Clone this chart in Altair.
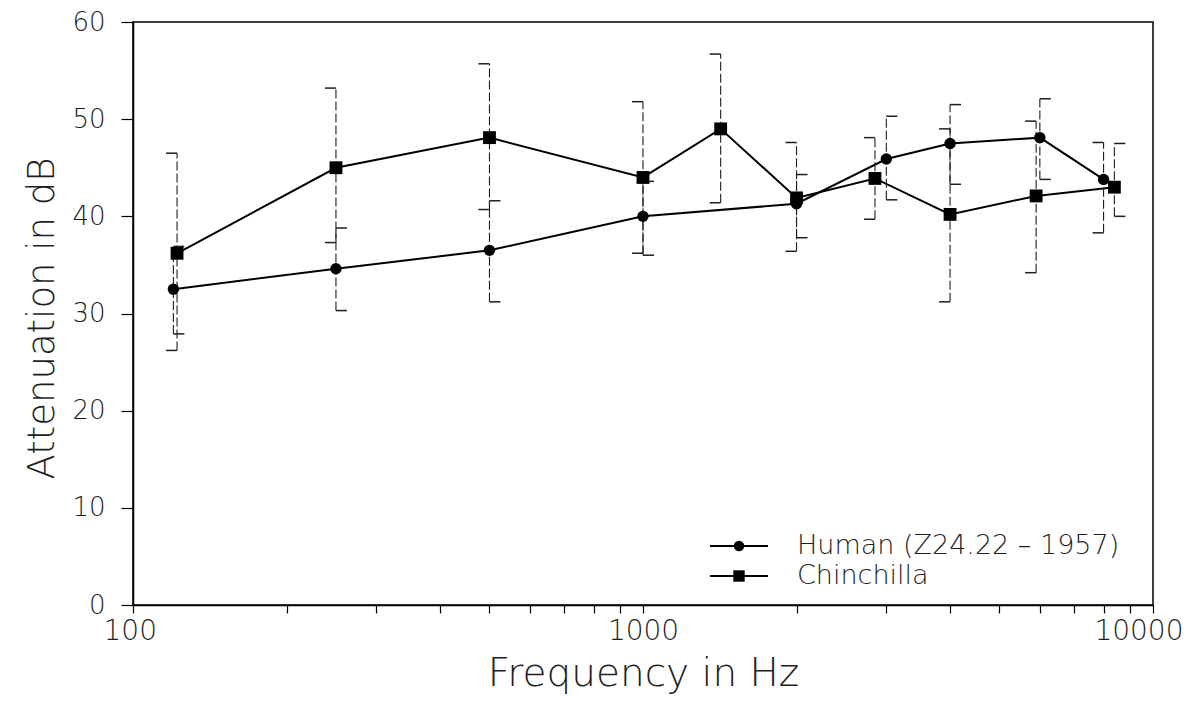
import altair as alt
import pandas as pd

# ---- data ----
human_freq = [120, 250, 500, 1000, 2000, 3000, 4000, 6000, 8000]
human_db = [32.5, 34.6, 36.5, 40.0, 41.3, 45.9, 47.5, 48.1, 43.8]
human_hi = [36.9, 38.8, 41.6, 43.6, 44.3, 50.3, 51.5, 52.1, 47.6]
human_lo = [27.9, 30.3, 31.2, 36.0, 37.8, 41.7, 43.3, 43.8, 38.3]
human_cap = ["R", "R", "R", "R", "R", "R", "R", "R", "L"]

chin_freq = [122, 250, 500, 1000, 1420, 2000, 2850, 4000, 5900, 8400]
chin_db = [36.2, 45.0, 48.1, 44.0, 49.0, 41.9, 43.9, 40.2, 42.1, 43.0]
chin_hi = [46.5, 53.2, 55.7, 51.8, 56.7, 47.6, 48.1, 49.0, 49.8, 47.5]
chin_lo = [26.2, 37.3, 40.7, 36.2, 41.4, 36.4, 39.7, 31.2, 34.2, 40.0]
chin_cap = ["L", "L", "L", "L", "L", "L", "L", "L", "L", "R"]

HUMAN = "Human (Z24.22 \u2013 1957)"
CHIN = "Chinchilla"

x_ticks = [100, 200, 300, 400, 500, 600, 700, 800, 900,
           1000, 2000, 3000, 4000, 5000, 6000, 7000, 8000, 9000, 10000]
y_ticks = [0, 10, 20, 30, 40, 50, 60]

rows = []
for f, d, h, l, c in zip(human_freq, human_db, human_hi, human_lo, human_cap):
    rows.append(dict(series=HUMAN, freq=f, db=d, hi=h, lo=l, cap=c))
for f, d, h, l, c in zip(chin_freq, chin_db, chin_hi, chin_lo, chin_cap):
    rows.append(dict(series=CHIN, freq=f, db=d, hi=h, lo=l, cap=c))
df = pd.DataFrame(rows)

FONT = "DejaVu Sans"
INK = "#1e1e1e"

x_enc = alt.X(
    "freq:Q",
    scale=alt.Scale(type="log", domain=[100, 10000]),
    axis=alt.Axis(
        values=x_ticks,
        labelExpr="(datum.value==100||datum.value==1000||datum.value==10000) ? format(datum.value,'d') : ''",
        labelOverlap=False,
        labelFlush=True,
        labelFlushOffset=30,
        tickSize=8,
        labelPadding=4,
        labelFontSize=28,
        title="Frequency in Hz",
        titleFontSize=39,
        titleBaseline="alphabetic",
        titleY=80,
        grid=False,
    ),
)
y_enc = alt.Y(
    "db:Q",
    scale=alt.Scale(domain=[0, 60]),
    axis=alt.Axis(
        values=y_ticks,
        tickSize=12,
        labelPadding=16,
        labelFontSize=26,
        title="Attenuation in dB",
        titleFontSize=37,
        titleAngle=-90,
        titleBaseline="alphabetic",
        titleX=-80,
        titleY=296,
        grid=False,
    ),
)

base = alt.Chart(df)

lines = base.mark_line(color="black", strokeWidth=2).encode(
    x=x_enc, y=y_enc, detail="series:N"
)

bars = base.mark_rule(color=INK, strokeWidth=1.1, strokeDash=[9, 3]).encode(
    x="freq:Q", y="lo:Q", y2="hi:Q"
)

def caps(side, field):
    if side == "L":
        m = base.mark_rule(color=INK, strokeWidth=1.5, xOffset=-11, x2Offset=0)
    else:
        m = base.mark_rule(color=INK, strokeWidth=1.5, xOffset=0, x2Offset=11)
    return m.transform_filter(alt.datum.cap == side).encode(
        x="freq:Q", x2="freq:Q", y=f"{field}:Q"
    )

cap_layers = [caps(s, f) for s in ("L", "R") for f in ("hi", "lo")]

pts_h = base.transform_filter(alt.datum.series == HUMAN).mark_point(
    shape="circle", filled=True, color="black", size=130, opacity=1
).encode(x="freq:Q", y="db:Q")

pts_c = base.transform_filter(alt.datum.series == CHIN).mark_point(
    shape="square", filled=True, color="black", size=165, opacity=1
).encode(x="freq:Q", y="db:Q")

# ---- legend drawn inside the plot ----
one = alt.Data(values=[{"k": 1}])
leg = []
for label, shape, size, yy in [(HUMAN, "circle", 110, 524), (CHIN, "square", 130, 554)]:
    leg.append(alt.Chart(one).mark_rule(color="black", strokeWidth=2).encode(
        x=alt.value(577), x2=alt.value(635), y=alt.value(yy)))
    leg.append(alt.Chart(one).mark_point(shape=shape, filled=True, color="black",
                                         size=size, opacity=1).encode(
        x=alt.value(606), y=alt.value(yy)))
    leg.append(alt.Chart(one).mark_text(align="left", baseline="middle", font=FONT,
                                        fontSize=27, fontWeight=200, color=INK).encode(
        x=alt.value(664), y=alt.value(yy), text=alt.value(label)))

chart = alt.layer(lines, bars, *cap_layers, pts_h, pts_c, *leg).properties(
    width=1020,
    height=583,
    autosize="none",
    padding={"left": 125, "top": 14, "right": 31, "bottom": 91},
).configure_view(
    stroke="black", strokeWidth=1.5
).configure_axis(
    domainColor="black",
    domainWidth=1.5,
    tickColor="black",
    tickWidth=1.2,
    labelFont=FONT,
    labelFontWeight=200,
    labelColor=INK,
    titleFont=FONT,
    titleFontWeight=200,
    titleColor=INK,
)

chart.save("out.html", embed_options={"renderer": "svg", "actions": False})
